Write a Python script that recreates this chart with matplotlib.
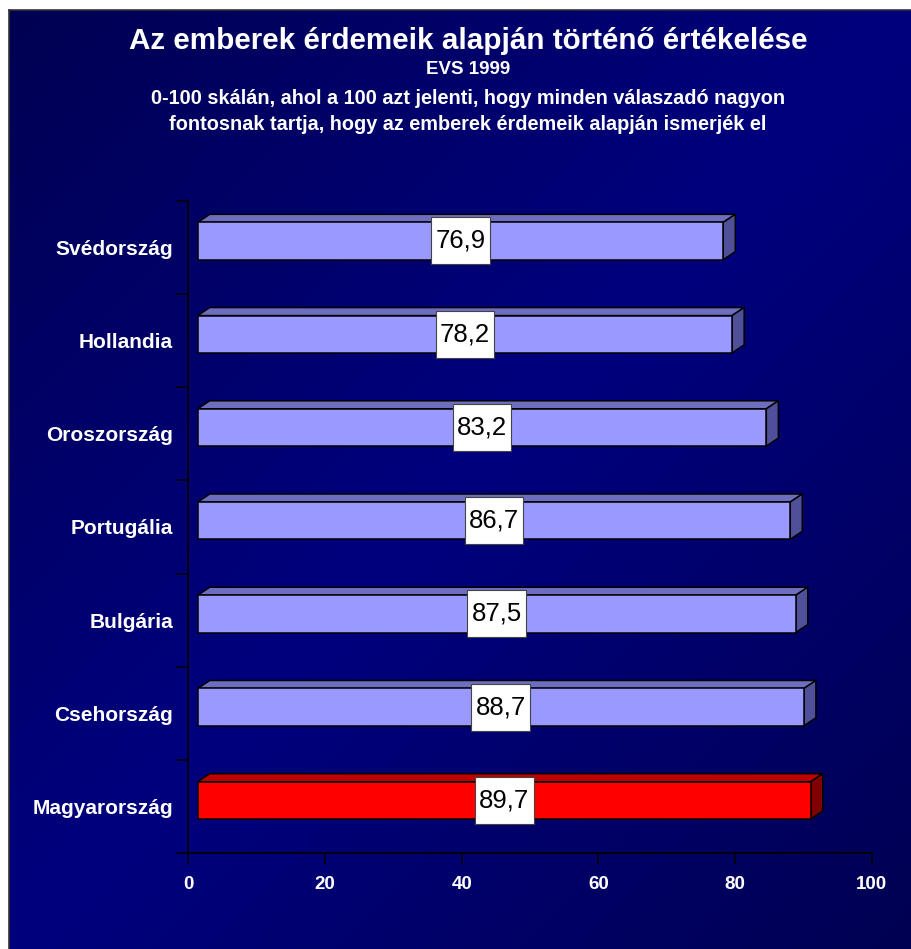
import numpy as np
import matplotlib.pyplot as plt
from matplotlib.patches import Rectangle, Polygon

countries = ['Svédország', 'Hollandia', 'Oroszország', 'Portugália',
             'Bulgária', 'Csehország', 'Magyarország']
values = [76.9, 78.2, 83.2, 86.7, 87.5, 88.7, 89.7]
labels = ['76,9', '78,2', '83,2', '86,7', '87,5', '88,7', '89,7']
xticks = [0, 20, 40, 60, 80, 100]

title = 'Az emberek érdemeik alapján történő értékelése'
subtitle = 'EVS 1999'
note1 = '0-100 skálán, ahol a 100 azt jelenti, hogy minden válaszadó nagyon'
note2 = 'fontosnak tartja, hogy az emberek érdemeik alapján ismerjék el'

plt.rcParams['font.family'] = ['Liberation Sans', 'DejaVu Sans']

W, H = 912, 949
fig = plt.figure(figsize=(W / 100, H / 100), dpi=100)
fig.patch.set_facecolor('white')

# gradient background (bright along the anti-diagonal)
bg = fig.add_axes([9 / W, 0, (W - 9) / W, (H - 10) / H])
s, t = np.meshgrid(np.linspace(0, 1, 300), np.linspace(0, 1, 300))
b = 126 - 44 * np.abs(s + t - 1)
img = np.zeros((300, 300, 3))
img[..., 2] = b / 255.0
bg.imshow(img, extent=[0, 1, 0, 1], aspect='auto', origin='upper')
bg.set_xticks([])
bg.set_yticks([])
for side in ['right', 'bottom']:
    bg.spines[side].set_visible(False)
for side in ['top', 'left']:
    bg.spines[side].set_color('#333333')
    bg.spines[side].set_linewidth(1.2)

# main axes
ax = fig.add_axes([188.3 / W, 95.7 / H, 683.4 / W, 652.6 / H])
ax.set_facecolor('none')
ax.set_xlim(0, 100)
ax.set_ylim(6.5, -0.5)

off_x = 1.38      # front face shift
dx, dy = 1.76, 0.086  # 3d depth
h = 0.40
for i, (v, lab) in enumerate(zip(values, labels)):
    if countries[i] == 'Magyarország':
        front, top, side = '#FF0000', '#C00000', '#800000'
    else:
        front, top, side = '#9999FF', '#6E6EC0', '#50509A'
    yc = i - 0.068
    y0, y1 = yc - h / 2, yc + h / 2
    x0, x1 = off_x, off_x + v
    ax.add_patch(Polygon([(x0, y0), (x1, y0), (x1 + dx, y0 - dy), (x0 + dx, y0 - dy)],
                         closed=True, facecolor=top, edgecolor='black', lw=1.1, zorder=3))
    ax.add_patch(Polygon([(x1, y0), (x1 + dx, y0 - dy), (x1 + dx, y1 - dy), (x1, y1)],
                         closed=True, facecolor=side, edgecolor='black', lw=1.1, zorder=3))
    ax.add_patch(Rectangle((x0, y0), v, h, facecolor=front, edgecolor='black',
                           lw=1.1, zorder=4))
    cx = (x0 + x1) / 2
    bw, bh = 8.6, 0.504
    ax.add_patch(Rectangle((cx - bw / 2, yc - bh / 2), bw, bh, facecolor='white',
                           edgecolor='#444444', lw=0.8, zorder=5))
    ax.text(cx, yc, lab, ha='center', va='center', fontsize=18.5,
            color='black', zorder=6)

for side in ['top', 'right']:
    ax.spines[side].set_visible(False)
for side in ['left', 'bottom']:
    ax.spines[side].set_color('black')
    ax.spines[side].set_linewidth(1.2)

ax.set_xticks(xticks)
ax.set_xticklabels([str(x) for x in xticks], fontsize=13.5, fontweight='bold', color='white')
ax.tick_params(axis='x', direction='out', length=8, width=1.1, color='black', pad=8)

ax.set_yticks(range(len(countries)))
ax.set_yticklabels(countries, fontsize=15, fontweight='bold', color='white')
ax.tick_params(axis='y', which='major', length=0, pad=11)
ax.set_yticks(np.arange(-0.5, len(countries), 1.0), minor=True)
ax.tick_params(axis='y', which='minor', direction='out', length=8.5, width=1.1, color='black')

fig.text(468 / W, 1 - 41 / H, title, ha='center', va='center', fontsize=21.3,
         fontweight='bold', color='white')
fig.text(468 / W, 1 - 69 / H, subtitle, ha='center', va='center', fontsize=13.5,
         fontweight='bold', color='white')
fig.text(468 / W, 1 - 99 / H, note1, ha='center', va='center', fontsize=14.3,
         fontweight='bold', color='white')
fig.text(468 / W, 1 - 124 / H, note2, ha='center', va='center', fontsize=14.3,
         fontweight='bold', color='white')

fig.savefig('out.png', dpi=100)
